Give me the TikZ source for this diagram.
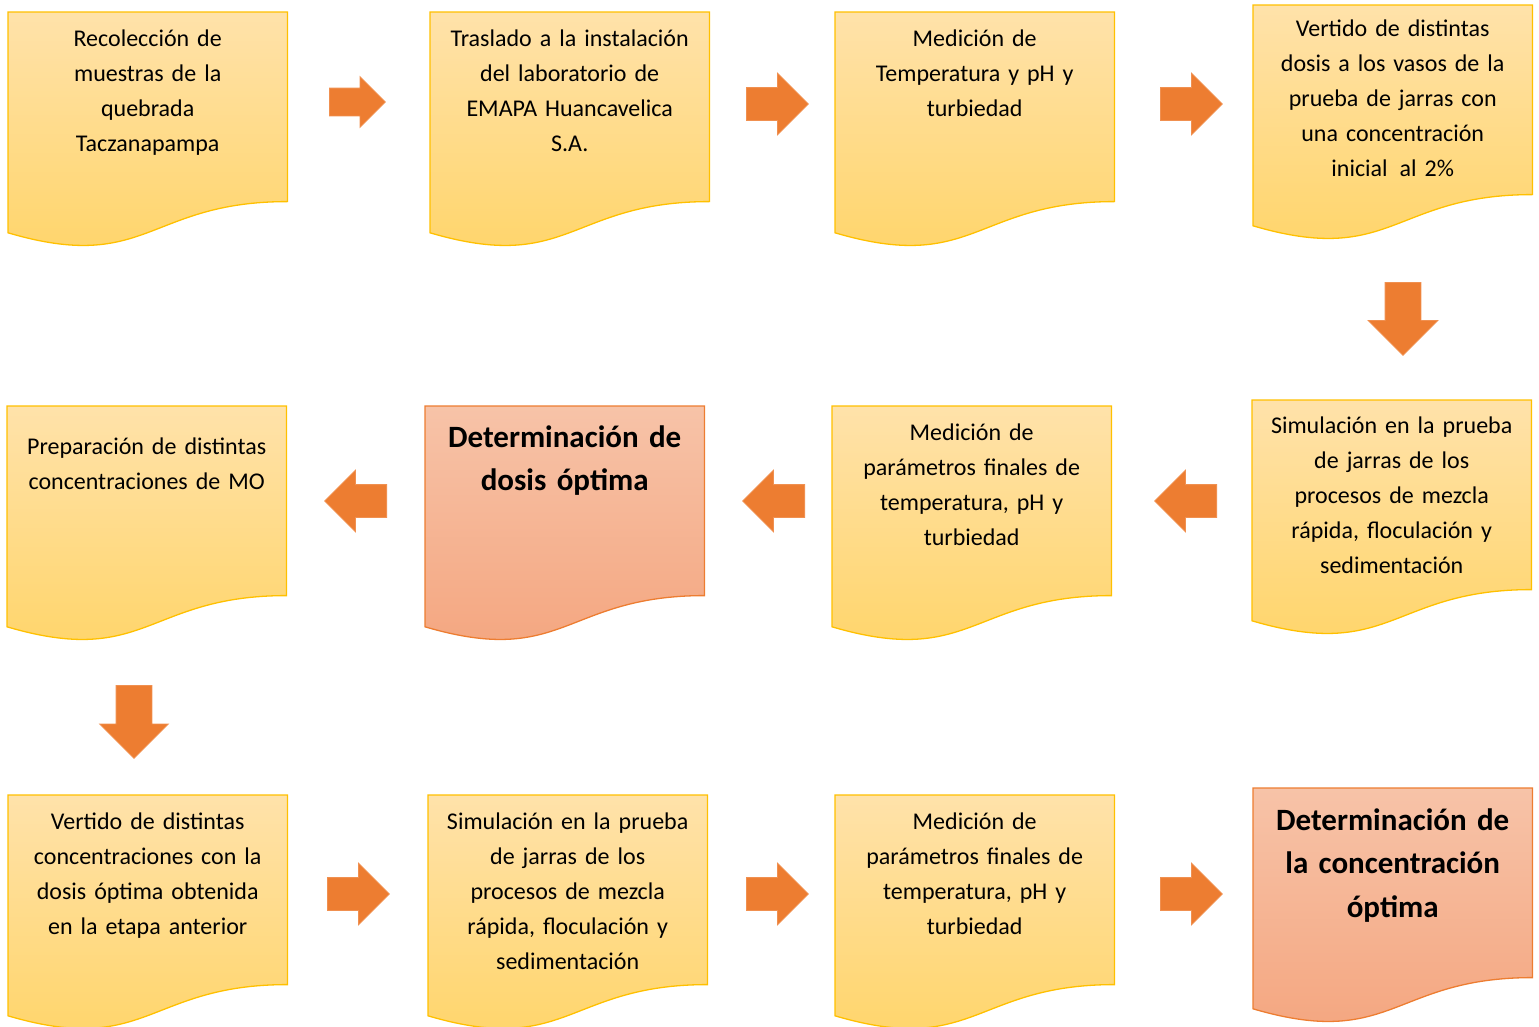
\documentclass[tikz,border=0pt]{standalone}
\usepackage{fontspec}
\setmainfont{Carlito}[WordSpace=0.7]
\usepackage{tikz}
\usetikzlibrary{shapes.arrows,calc}
\definecolor{goldline}{HTML}{FFC000}
\definecolor{goldtop}{HTML}{FFE2AA}
\definecolor{goldbot}{HTML}{FFD466}
\definecolor{salmonline}{HTML}{ED7D31}
\definecolor{salmontop}{HTML}{F7C3A8}
\definecolor{salmonbot}{HTML}{F4A47D}
\definecolor{arroworange}{HTML}{ED7D31}
\pgfdeclarelayer{bg}
\pgfsetlayers{bg,main}
\tikzset{
  doc/.style={anchor=north west,inner sep=0pt,text width=279pt,align=center,
              text height=#1pt,text depth=\the\numexpr236-#1\relax pt,
              font=\fontsize{24}{35}\selectfont},
  doc/.default=34,
  docbold/.style={doc=#1,font=\fontsize{31}{43.5}\selectfont\bfseries},
  goldfill/.style={draw=goldline,line width=1.3pt,top color=goldtop,bottom color=goldbot},
  salmonfill/.style={draw=salmonline,line width=1.3pt,top color=salmontop,bottom color=salmonbot},
  blockarrow/.style={single arrow,anchor=tail,inner xsep=0pt,inner ysep=16pt,fill=arroworange,
              draw=arroworange!85!white,line width=.8pt,
              minimum height=62pt,single arrow head extend=14.5pt},
  downarrow/.style={blockarrow,shape border rotate=270,minimum height=73pt,
              inner xsep=17.5pt,inner ysep=0pt,single arrow head extend=17pt}
}
% wavy bottom of a document box
\newcommand{\docpath}[1]{(#1.north west) -- (#1.north east)
  -- ($(#1.north east)!0.802!(#1.south east)$)
  .. controls ($(#1.north)!0.802!(#1.south)$) and ($(#1.north)!1.108!(#1.south)$)
  .. ($(#1.north west)!0.934!(#1.south west)$) -- cycle}
\begin{document}
\begin{tikzpicture}[x=1pt,y=-1pt]
\useasboundingbox (0,0) rectangle (1539,1026);
%boxes
\node[doc] (recol) at (8,12) {Recolección de\\muestras de la\\quebrada\\Taczanapampa};
\node[doc] (trasl) at (430,12) {Traslado a la instalación\\del laboratorio de\\EMAPA Huancavelica\\S.A.};
\node[doc] (medin) at (835,12) {Medición de\\Temperatura y pH y\\turbiedad};
\node[doc=31] (verdo) at (1253,5) {Vertido de distintas\\dosis a los vasos de la\\prueba de jarras con\\una concentración\\inicial\,\ al 2\%};
\node[doc=33] (simdo) at (1252,400) {Simulación en la prueba\\de jarras de los\\procesos de mezcla\\rápida, floculación y\\sedimentación};
\node[doc] (medfi) at (832,406) {Medición de\\parámetros finales de\\temperatura, pH y\\turbiedad};
\node[docbold=41] (detdo) at (425,406) {Determinación de\\dosis óptima};
\node[doc=48] (prepa) at (7,406) {Preparación de distintas\\concentraciones de MO};
\node[doc] (verco) at (8,795) {Vertido de distintas\\concentraciones con la\\dosis óptima obtenida\\en la etapa anterior};
\node[doc] (simco) at (428,795) {Simulación en la prueba\\de jarras de los\\procesos de mezcla\\rápida, floculación y\\sedimentación};
\node[doc] (medco) at (835,795) {Medición de\\parámetros finales de\\temperatura, pH y\\turbiedad};
\node[docbold=42] (detco) at (1253,788) {Determinación de\\la concentración\\óptima};
\begin{pgfonlayer}{bg}
\foreach \b in {recol,trasl,medin,verdo,simdo,medfi,prepa,verco,simco,medco}
  \shade[goldfill] \docpath{\b};
\foreach \b in {detdo,detco}
  \shade[salmonfill] \docpath{\b};
\end{pgfonlayer}
%arrows
\node[blockarrow,minimum height=56pt,inner ysep=13.5pt,single arrow head extend=11.5pt] (a1) at (329,102) {};
\node[blockarrow] (a2) at (746,104) {};
\node[blockarrow] (a3) at (1160,104) {};
\node[downarrow] (a4) at (1403,282) {};
\node[blockarrow,shape border rotate=180] (a5) at (1217,501) {};
\node[blockarrow,shape border rotate=180] (a6) at (805,501) {};
\node[blockarrow,shape border rotate=180] (a7) at (387,501) {};
\node[downarrow,single arrow head extend=16.5pt] (a8) at (134,685) {};
\node[blockarrow] (a9) at (327,894) {};
\node[blockarrow] (a10) at (746,894) {};
\node[blockarrow] (a11) at (1160,894) {};
\end{tikzpicture}
\end{document}
